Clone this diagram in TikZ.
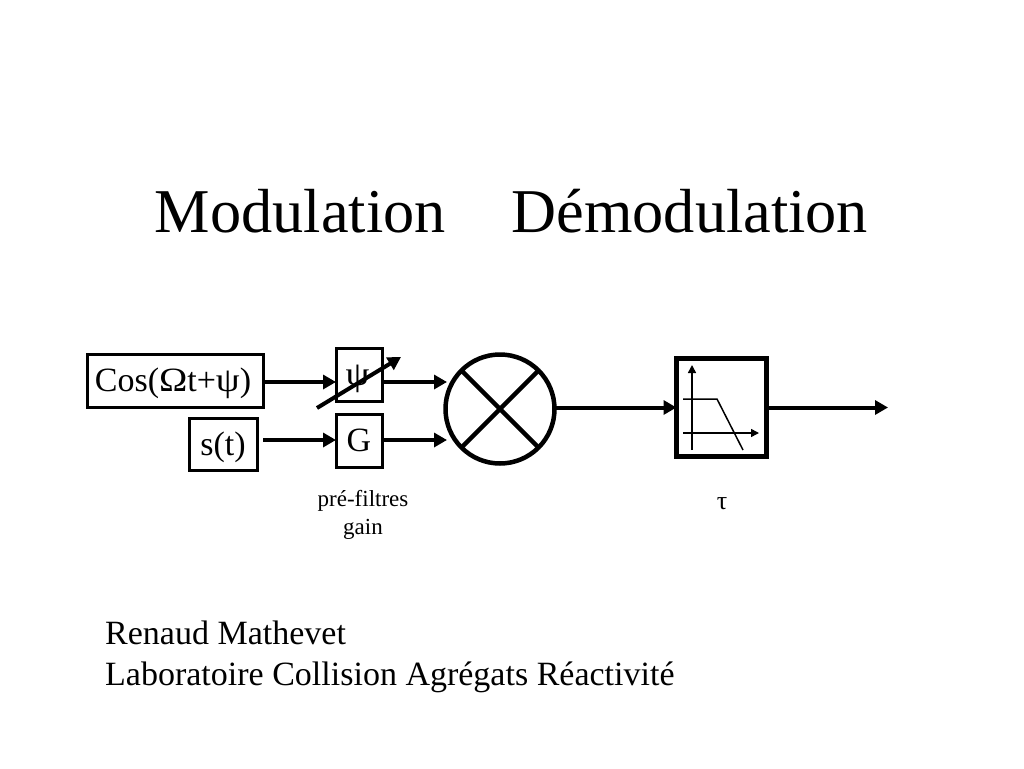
\documentclass[tikz,border=0pt]{standalone}
\usepackage{graphicx}
\usepackage{fontspec}
\setmainfont{Liberation Serif}
\usetikzlibrary{arrows.meta}
\newcommand{\lowered}[1]{\raisebox{-10.5pt}[0pt][0pt]{#1}}
\newcommand{\gk}[1]{\scalebox{1.12}[1]{#1}}
\tikzset{
  x=1pt,y=-1pt,
  blockbox/.style={draw=black,line width=3pt,inner sep=0pt,outer sep=0pt,anchor=north west,font=\fontsize{34}{38}\selectfont},
  flow/.style={line width=4pt,-{Triangle[length=13pt,width=14pt]}},
  thin axis/.style={line width=1.5pt,-{Triangle[length=8pt,width=8pt]}},
  caption/.style={font=\fontsize{23}{27}\selectfont,inner sep=0pt},
  byline/.style={anchor=base west,inner sep=0pt,font=\fontsize{34}{40}\selectfont},
}
\begin{document}
\begin{tikzpicture}
\useasboundingbox (0,0) rectangle (1024,768);
\node[anchor=base,font=\fontsize{62.3}{70}\selectfont] (title) at (511.5,232) {Modulation\hspace{66pt}Démodulation};

\node[blockbox,minimum width=176pt,minimum height=53pt] (cos) at (87,354.5) {\lowered{Cos(\gk{Ω}t+\gk{ψ})\hspace{4pt}}};
\node[blockbox,minimum width=68pt,minimum height=52pt] (st) at (189,418.5) {\lowered{s(t)}};
\node[blockbox,minimum width=46pt,minimum height=53pt] (psi) at (336,348.5) {\lowered{\gk{ψ}\hspace{3pt}}};
\node[blockbox,minimum width=46pt,minimum height=53pt] (g) at (336,414.5) {\lowered{G}};
\node[circle,draw=black,line width=4.5pt,minimum size=109pt,inner sep=0pt,outer sep=0pt] (mix) at (500,409) {};
\node[draw=black,line width=5pt,minimum width=90pt,minimum height=98pt,inner sep=0pt,outer sep=0pt,anchor=north west] (filt) at (676.5,358.5) {};

\coordinate (r1) at (447,382);
\coordinate (r2) at (447,440);
\coordinate (out) at (888,407.5);
\coordinate (slashA) at (317,408);
\coordinate (slashB) at (401,357);

\draw[flow] (cos.east |- r1) -- (psi.west |- r1);
\draw[flow] (cos.east |- r2) -- (g.west |- r2);
\draw[flow] (psi.east |- r1) -- (r1);
\draw[flow] (g.east |- r2) -- (r2);
\draw[flow] (mix.east |- out) -- (filt.west |- out);
\draw[flow] (filt.east |- out) -- (out);
\draw[flow] (slashA) -- (slashB);

\draw[line width=4.5pt] (mix.45) -- (mix.225);
\draw[line width=4.5pt] (mix.135) -- (mix.315);

\draw[thin axis] (692,450) -- (692,365);
\draw[thin axis] (683,433) -- (759,433);
\draw[line width=1.5pt] (683,399) -- (717,399) -- (743,450);

\node[caption,anchor=base] (cap1) at (363,506) {pré-filtres};
\node[caption,anchor=base] (cap2) at (363,534) {gain};
\node[caption,anchor=base,font=\fontsize{26}{27}\selectfont] (tau) at (722,509.5) {τ};
\node[byline] (b1) at (105,644) {Renaud Mathevet};
\node[byline] (b2) at (105,685) {Laboratoire Collision Agrégats Réactivité};
\end{tikzpicture}
\end{document}
